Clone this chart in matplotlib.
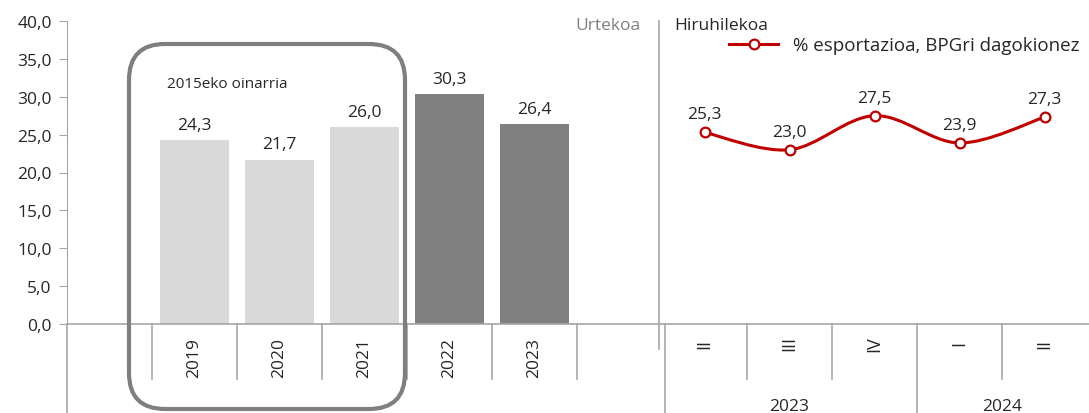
import numpy as np
import matplotlib
matplotlib.use("Agg")
import matplotlib.pyplot as plt
from matplotlib.patches import FancyBboxPatch, PathPatch
from matplotlib.path import Path
from matplotlib.lines import Line2D

plt.rcParams['font.family'] = ['Open Sans', 'DejaVu Sans']

# Daten
jahre = ["2019", "2020", "2021", "2022", "2023"]
jahr_werte = [24.3, 21.7, 26.0, 30.3, 26.4]
jahr_farben = ["#d9d9d9", "#d9d9d9", "#d9d9d9", "#808080", "#808080"]
quartale = ["II", "III", "IV", "I", "II"]
quartal_werte = [25.3, 23.0, 27.5, 23.9, 27.3]
gruppen_jahre = ["2023", "2024"]
gruppen_groesse = [3, 2]
yticks = [0, 5, 10, 15, 20, 25, 30, 35, 40]

rot = "#c00000"
grau = "#a6a6a6"
txt = "#262626"

fig = plt.figure(figsize=(10.89, 4.14), dpi=100)
ax = fig.add_axes([67/1089, 89/414, 1020/1089, 303/414])

# Positionen: 0 leer, 1-5 Jahre, 6 leer, 7-11 Quartale
x_jahre = np.arange(1, 6)
x_quart = np.arange(7, 12)

ax.bar(x_jahre, jahr_werte, width=0.81, color=jahr_farben, zorder=2)
for x, v in zip(x_jahre, jahr_werte):
    ax.text(x, v + 2.0, f"{v:.1f}".replace(".", ","), ha="center", va="center", fontsize=12.5, color=txt)

# geglaettete Linie (Bezier wie Excel)
pts = np.column_stack([x_quart, quartal_werte]).astype(float)
n = len(pts)
verts = [pts[0]]
codes = [Path.MOVETO]
for i in range(n - 1):
    p0 = pts[max(i - 1, 0)]
    p1 = pts[i]
    p2 = pts[i + 1]
    p3 = pts[min(i + 2, n - 1)]
    c1 = p1 + (p2 - p0) / 6
    c2 = p2 - (p3 - p1) / 6
    verts += [c1, c2, p2]
    codes += [Path.CURVE4] * 3
ax.add_patch(PathPatch(Path(verts, codes), facecolor="none", edgecolor=rot, lw=2.2, zorder=3))
ax.plot(x_quart, quartal_werte, linestyle="none", marker="o", ms=7, mfc="white", mec=rot, mew=1.6, zorder=4)
for x, v in zip(x_quart, quartal_werte):
    ax.text(x, v + 2.4, f"{v:.1f}".replace(".", ","), ha="center", va="center", fontsize=12.5, color=txt)

ax.set_xlim(-0.5, 11.5)
ax.set_ylim(0, 40)
ax.set_yticks(yticks)
ax.set_yticklabels([f"{t:.1f}".replace(".", ",") for t in yticks], fontsize=12.5, color=txt)
ax.tick_params(axis="y", length=6, color=grau, pad=5)
ax.set_xticks([])
for s in ["top", "right", "bottom"]:
    ax.spines[s].set_visible(False)
ax.spines["left"].set_color(grau)
ax.spines["left"].set_bounds(0, 40)

# Achsen-Linien unten
ax.add_line(Line2D([-0.5, 11.6], [0, 0], color=grau, lw=1.2, clip_on=False, zorder=5))
ax.add_line(Line2D([-0.5, -0.5], [0, -12], color=grau, lw=1.2, clip_on=False))
for b in [0.5, 1.5, 2.5, 3.5, 4.5, 5.5, 7.5, 8.5, 10.5]:
    ax.add_line(Line2D([b, b], [0, -7.2], color=grau, lw=1.2, clip_on=False))
for b in [6.53, 9.5]:
    ax.add_line(Line2D([b, b], [0, -12], color=grau, lw=1.2, clip_on=False))
ax.add_line(Line2D([6.47, 6.47], [40, -3.3], color=grau, lw=1.2, clip_on=False))

# Kategorien-Beschriftung
for x, t in zip(x_jahre, jahre):
    ax.text(x, -4.4, t, rotation=90, ha="center", va="center", fontsize=12.5, color=txt)
for x, t in zip(x_quart, quartale):
    ax.text(x, -2.5, t, rotation=90, ha="center", va="center", fontsize=13, color=txt)
start = 7
for t, g in zip(gruppen_jahre, gruppen_groesse):
    ax.text(start + (g - 1) / 2, -10.8, t, ha="center", va="center", fontsize=12.5, color=txt)
    start += g

# Texte
ax.text(0.68, 31.8, "2015eko oinarria", ha="left", va="center", fontsize=11, color=txt)
ax.text(6.25, 39.5, "Urtekoa", ha="right", va="center", fontsize=12.5, color="#7f7f7f")
ax.text(6.65, 39.5, "Hiruhilekoa", ha="left", va="center", fontsize=12.5, color=txt)

# Legende
leg = ax.legend([Line2D([], [], color=rot, lw=2.2, marker="o", ms=7, mfc="white", mec=rot, mew=1.6)],
                ["% esportazioa, BPGri dagokionez"], loc="upper right", bbox_to_anchor=(1.0, 0.975),
                frameon=False, fontsize=13.5, handlelength=2.6, handletextpad=0.8, borderaxespad=0.0)
for t in leg.get_texts():
    t.set_color(txt)

# Rahmen um 2015er Basis
rahmen = FancyBboxPatch((1.29, 0.04), 2.76, 3.65, boxstyle="round,pad=0,rounding_size=0.36",
                        transform=fig.dpi_scale_trans, facecolor="none", edgecolor="#7f7f7f", lw=3.0,
                        zorder=10, clip_on=False)
fig.patches.append(rahmen)

fig.savefig("out.png", dpi=100)
